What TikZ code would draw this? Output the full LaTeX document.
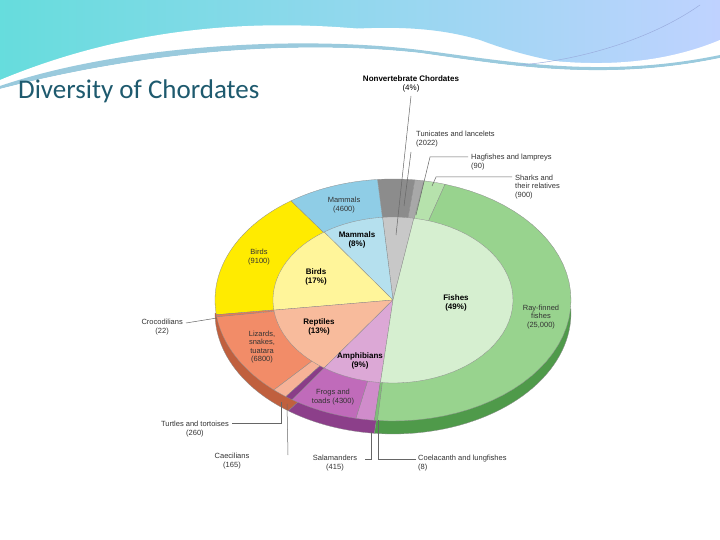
\documentclass[tikz,border=0pt]{standalone}
\usepackage{fontspec}
\setmainfont{Liberation Sans}
\newfontfamily\titlefont{Carlito}
\definecolor{gIn}{HTML}{C8C8C8}\definecolor{gTun}{HTML}{8C8C8C}\definecolor{gHag}{HTML}{A8A8A8}
\definecolor{mIn}{HTML}{B5E0EE}\definecolor{mOut}{HTML}{8FCDE6}
\definecolor{bIn}{HTML}{FFF59A}\definecolor{bOut}{HTML}{FFEB00}
\definecolor{rIn}{HTML}{F8BB9C}\definecolor{rOut}{HTML}{F28C68}\definecolor{rTur}{HTML}{F6B297}\definecolor{rCro}{HTML}{E57A55}
\definecolor{aIn}{HTML}{DCA8D6}\definecolor{aFrog}{HTML}{C06BBA}\definecolor{aCae}{HTML}{8A3D88}\definecolor{aSal}{HTML}{D08CCB}
\definecolor{fIn}{HTML}{D6EFD0}\definecolor{fOut}{HTML}{98D38E}\definecolor{fSh}{HTML}{B6E2AC}\definecolor{fCo}{HTML}{7FBF78}
\definecolor{sRed}{HTML}{C0603E}\definecolor{sPur}{HTML}{8C3F8A}\definecolor{sGr}{HTML}{4F9A4A}
\definecolor{titlec}{HTML}{1E5A6E}
\begin{document}
\begin{tikzpicture}[x=1pt,y=-1pt,
  lab/.style={font=\fontsize{7.5}{8.5}\selectfont,text=black!80,align=center,inner sep=1pt},
  blab/.style={font=\bfseries\fontsize{8}{9.5}\selectfont,align=center,inner sep=1pt},
  lead/.style={draw=black!60,line width=0.5pt}]
\useasboundingbox (0,0) rectangle (720,540);
\fill[white] (0,0) rectangle (720,540);
% header
\shade[left color=cyan!55!teal!60, right color=cyan!30!blue!25]
 (0,0) -- (720,0) -- (720,40) .. controls (650,80) and (560,70) .. (480,40) .. controls (380,10) and (250,40) .. (0,80) -- cycle;
\fill[white] (0,80) .. controls (120,30) and (250,15) .. (390,32) .. controls (470,45) and (600,90) .. (720,40) -- (720,55) .. controls (600,80) and (500,60) .. (420,50) .. controls (300,40) and (150,50) .. (0,90) -- cycle;
\fill[cyan!40!teal!45] (0,86) .. controls (120,45) and (300,35) .. (420,50) .. controls (500,60) and (600,80) .. (720,55) -- (720,58) .. controls (600,83) and (500,64) .. (420,53) .. controls (300,40) and (150,50) .. (0,89) -- cycle;
\fill[white] (0,89) .. controls (150,50) and (300,40) .. (420,53) .. controls (500,64) and (600,83) .. (720,58) -- (720,110) -- (0,110) -- cycle;
\draw[cyan!40!blue!40,line width=0.5pt] (700,5) .. controls (650,40) and (580,60) .. (520,65);
\node[anchor=west,text=titlec,inner sep=0] (title) at (18,91) {\titlefont\fontsize{27}{30}\selectfont Diversity of Chordates};
% pie
\newcommand\pieslice[6]{\fill[#6,draw=black!45,line width=0.3pt] (393,#5) -- plot[domain=#1:#2,samples=40] ({393+#3*cos(\x)},{#5-#4*sin(\x)}) -- cycle;}
% sides
\pieslice{180}{234}{178}{121}{313}{sRed}
\pieslice{234}{264}{178}{121}{313}{sPur}
\pieslice{264}{362}{178}{121}{313}{sGr}
% outer ring
\pieslice{73}{80}{178}{121}{300}{fSh}
\pieslice{80}{83}{178}{121}{300}{gHag}
\pieslice{83}{95}{178}{121}{300}{gTun}
\pieslice{95}{125}{178}{121}{300}{mOut}
\pieslice{125}{187}{178}{121}{300}{bOut}
\pieslice{187}{188}{178}{121}{300}{rCro}
\pieslice{188}{228}{178}{121}{300}{rOut}
\pieslice{228}{233}{178}{121}{300}{rTur}
\pieslice{233}{235.5}{178}{121}{300}{aCae}
\pieslice{235.5}{258}{178}{121}{300}{aFrog}
\pieslice{258}{264}{178}{121}{300}{aSal}
\pieslice{264}{265}{178}{121}{300}{fCo}
\pieslice{265}{433}{178}{121}{300}{fOut}
% inner
\pieslice{80}{95}{120}{83}{300}{gIn}
\pieslice{95}{125}{120}{83}{300}{mIn}
\pieslice{125}{187}{120}{83}{300}{bIn}
\pieslice{187}{235}{120}{83}{300}{rIn}
\pieslice{235}{264}{120}{83}{300}{aIn}
\pieslice{264}{440}{120}{83}{300}{fIn}
% labels on pie
\node[lab] (mam) at (344,205) {Mammals\\(4600)};
\node[blab] (mamp) at (357,240) {Mammals\\(8\%)};
\node[lab] (bird) at (259,257) {Birds\\(9100)};
\node[blab] (birdp) at (316,277) {Birds\\(17\%)};
\node[blab] (rep) at (319,327) {Reptiles\\(13\%)};
\node[lab] (liz) at (262,347) {Lizards,\\snakes,\\tuatara\\(6800)};
\node[blab] (amph) at (360,361) {Amphibians\\(9\%)};
\node[lab] (frog) at (333,397) {Frogs and\\toads (4300)};
\node[blab] (fish) at (456,303) {Fishes\\(49\%)};
\node[lab] (ray) at (541,317) {Ray-finned\\fishes\\(25,000)};
% outside labels
\node[blab] (nonv) at (411,84) {Nonvertebrate Chordates\\[-1pt]\mdseries(4\%)};
\node[lab,align=left,anchor=west] (tun) at (415,139) {Tunicates and lancelets\\(2022)};
\node[lab,align=left,anchor=west] (hag) at (470,162) {Hagfishes and lampreys\\(90)};
\node[lab,align=left,anchor=west] (shark) at (514,187) {Sharks and\\their relatives\\(900)};
\node[lab,anchor=east] (croc) at (184,327) {Crocodilians\\(22)};
\node[lab,anchor=east] (turt) at (230,429) {Turtles and tortoises\\(260)};
\node[lab] (caec) at (232,461) {Caecilians\\(165)};
\node[lab] (sal) at (335,463) {Salamanders\\(415)};
\node[lab,align=left,anchor=west] (coel) at (417,463) {Coelacanth and lungfishes\\(8)};
% leader lines
\coordinate (nv1) at (411,96); \coordinate (nv2) at (396,235);
\draw[lead] (nv1) -- (nv2);
\coordinate (t2) at (404,206);
\draw[lead] (411,152) -- (t2);
\coordinate (h1) at (468,157); \coordinate (h2) at (430,157); \coordinate (h3) at (416,215);
\draw[lead] (h1) -- (h2) -- (h3);
\coordinate (s1) at (512,177); \coordinate (s2) at (436,177); \coordinate (s3) at (432,186);
\draw[lead] (s1) -- (s2) -- (s3);
\coordinate (c1) at (186,323); \coordinate (c2) at (217,318);
\draw[lead] (c1) -- (c2);
\coordinate (tt1) at (232,423); \coordinate (tt2) at (281,423); \coordinate (tt3) at (281,402);
\draw[lead] (tt1) -- (tt2) -- (tt3);
\coordinate (ca1) at (288,455); \coordinate (ca2) at (287,404);
\draw[lead] (ca1) -- (ca2);
\coordinate (sa1) at (365,459); \coordinate (sa2) at (371,459); \coordinate (sa3) at (371,432);
\draw[lead] (sa1) -- (sa2) -- (sa3);
\coordinate (co1) at (416,459); \coordinate (co2) at (378,459); \coordinate (co3) at (378,420);
\draw[lead] (co1) -- (co2) -- (co3);
\end{tikzpicture}
\end{document}
